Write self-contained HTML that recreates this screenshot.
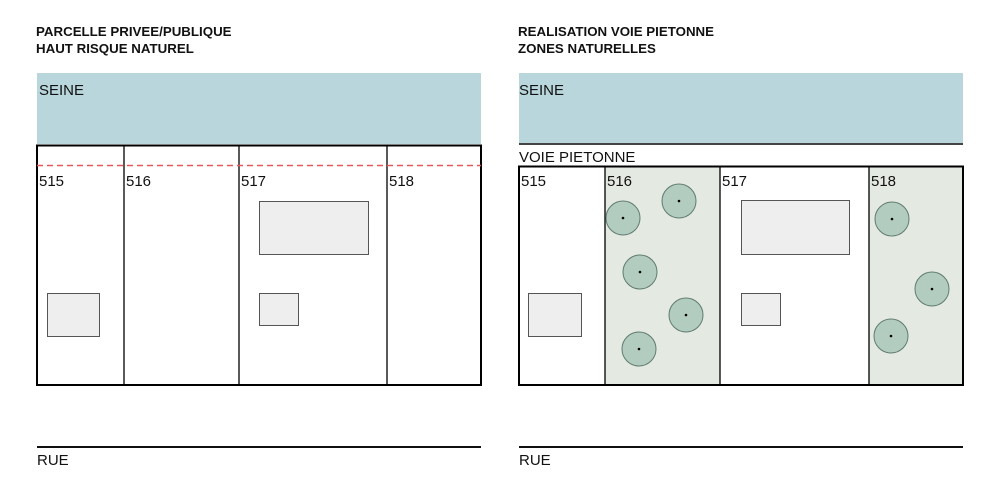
<!DOCTYPE html>
<html><head><meta charset="utf-8"><style>
html,body{margin:0;padding:0;background:#fff;}
svg{display:block}
text{font-family:"Liberation Sans",sans-serif;}
.t{font-weight:bold;font-size:13.3px;fill:#111}
.l{font-size:15px;fill:#111}
</style></head><body>
<svg width="1000" height="500" viewBox="0 0 1000 500" xmlns="http://www.w3.org/2000/svg">
<!-- Left panel -->
<text class="t" x="36" y="36">PARCELLE PRIVEE/PUBLIQUE</text>
<text class="t" x="36" y="53">HAUT RISQUE NATUREL</text>
<rect x="37" y="73" width="444" height="71" fill="#b8d6db"/>
<text class="l" x="39" y="95">SEINE</text>
<rect x="37" y="145.5" width="444" height="239.5" fill="#fff" stroke="#000" stroke-width="2"/>
<line x1="124" y1="145" x2="124" y2="385" stroke="#000" stroke-width="1.3"/>
<line x1="239" y1="145" x2="239" y2="385" stroke="#000" stroke-width="1.3"/>
<line x1="387" y1="145" x2="387" y2="385" stroke="#000" stroke-width="1.3"/>
<line x1="37" y1="165.5" x2="481" y2="165.5" stroke="#e8585a" stroke-width="1.6" stroke-dasharray="6,4"/>
<text class="l" x="39" y="186">515</text>
<text class="l" x="126" y="186">516</text>
<text class="l" x="241" y="186">517</text>
<text class="l" x="389" y="186">518</text>
<rect x="259.5" y="201.5" width="109" height="53" fill="#eee" stroke="#555" stroke-width="1"/>
<rect x="259.5" y="293.5" width="39" height="32" fill="#eee" stroke="#555" stroke-width="1"/>
<rect x="47.5" y="293.5" width="52" height="43" fill="#eee" stroke="#555" stroke-width="1"/>
<line x1="37" y1="447" x2="481" y2="447" stroke="#111" stroke-width="2"/>
<text class="l" x="37" y="465">RUE</text>

<!-- Right panel -->
<text class="t" x="518" y="36">REALISATION VOIE PIETONNE</text>
<text class="t" x="518" y="53">ZONES NATURELLES</text>
<rect x="519" y="73" width="444" height="70" fill="#b8d6db"/>
<line x1="519" y1="144" x2="963" y2="144" stroke="#444" stroke-width="2"/>
<text class="l" x="519" y="95">SEINE</text>
<text class="l" x="519" y="162">VOIE PIETONNE</text>
<rect x="519" y="166.5" width="444" height="218.5" fill="#fff" stroke="#000" stroke-width="2"/>
<rect x="605" y="167.5" width="115" height="216.5" fill="#e4e9e2"/>
<rect x="869" y="167.5" width="93" height="216.5" fill="#e4e9e2"/>
<line x1="605" y1="166" x2="605" y2="385" stroke="#000" stroke-width="1.3"/>
<line x1="720" y1="166" x2="720" y2="385" stroke="#000" stroke-width="1.3"/>
<line x1="869" y1="166" x2="869" y2="385" stroke="#000" stroke-width="1.3"/>
<text class="l" x="521" y="186">515</text>
<text class="l" x="607" y="186">516</text>
<text class="l" x="722" y="186">517</text>
<text class="l" x="871" y="186">518</text>
<rect x="741.5" y="200.5" width="108" height="54" fill="#eee" stroke="#555" stroke-width="1"/>
<rect x="741.5" y="293.5" width="39" height="32" fill="#eee" stroke="#555" stroke-width="1"/>
<rect x="528.5" y="293.5" width="53" height="43" fill="#eee" stroke="#555" stroke-width="1"/>
<g fill="#b2cdc0" stroke="#5f7a70" stroke-width="1">
<circle cx="623" cy="218" r="17"/>
<circle cx="679" cy="201" r="17"/>
<circle cx="640" cy="272" r="17"/>
<circle cx="686" cy="315" r="17"/>
<circle cx="639" cy="349" r="17"/>
<circle cx="892" cy="219" r="17"/>
<circle cx="932" cy="289" r="17"/>
<circle cx="891" cy="336" r="17"/>
</g>
<g fill="#000">
<circle cx="623" cy="218" r="1.3"/>
<circle cx="679" cy="201" r="1.3"/>
<circle cx="640" cy="272" r="1.3"/>
<circle cx="686" cy="315" r="1.3"/>
<circle cx="639" cy="349" r="1.3"/>
<circle cx="892" cy="219" r="1.3"/>
<circle cx="932" cy="289" r="1.3"/>
<circle cx="891" cy="336" r="1.3"/>
</g>
<line x1="519" y1="447" x2="963" y2="447" stroke="#111" stroke-width="2"/>
<text class="l" x="519" y="465">RUE</text>
</svg>
</body></html>
